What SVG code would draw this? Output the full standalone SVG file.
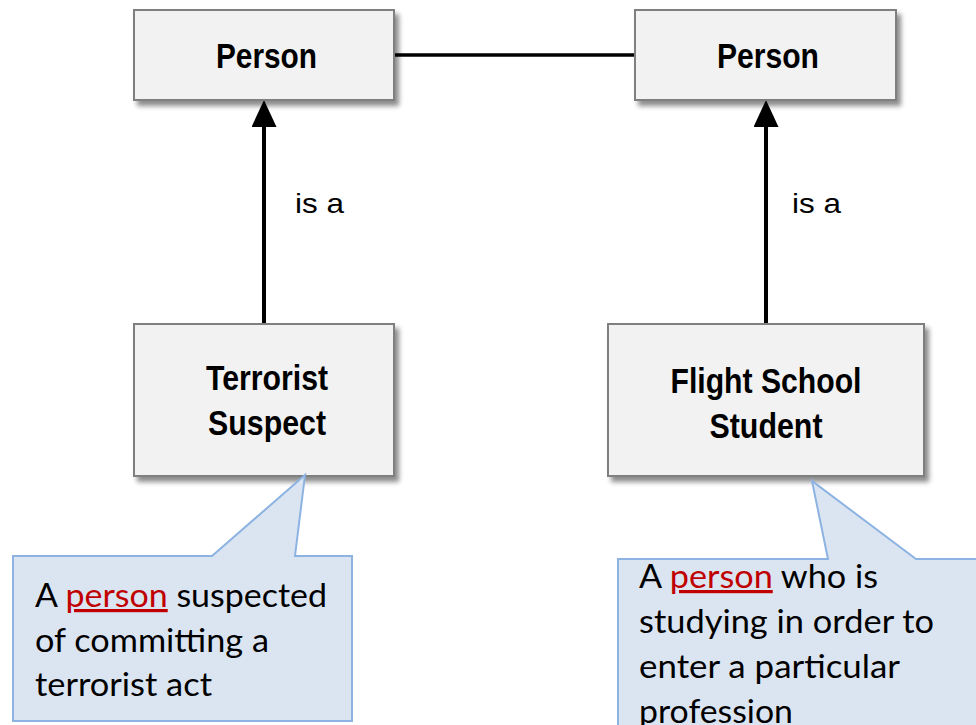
<svg xmlns="http://www.w3.org/2000/svg" width="976" height="725" viewBox="0 0 976 725">
  <style>
    .node rect { fill: #f2f2f2; stroke: #7f7f7f; stroke-width: 2; filter: url(#shadow); }
    .label { font-family: "Liberation Sans", Arial, sans-serif; font-weight: bold; font-size: 35px; fill: #000; text-anchor: middle; }
    .edge { stroke: #000; stroke-width: 4; fill: none; }
    .rel { font-family: "Liberation Sans", Arial, sans-serif; font-size: 28px; fill: #000; }
    .note path { fill: #dbe5f1; stroke: #8db3e2; stroke-width: 2; }
    .note text { font-family: Lato, "Open Sans", sans-serif; font-size: 32px; fill: #000; }
    .term { fill: #c00000; text-decoration: underline; }
  </style>
  <defs>
    <filter id="shadow" x="-10%" y="-10%" width="130%" height="140%">
      <feDropShadow dx="4" dy="5" stdDeviation="2.5" flood-color="#000" flood-opacity="0.45"/>
    </filter>
    <marker id="head" markerUnits="userSpaceOnUse" markerWidth="27" markerHeight="26" refX="17" refY="12.5" orient="auto">
      <path d="M0,0 L27,12.5 L0,25 Z" fill="#000"/>
    </marker>
  </defs>

  <!-- connectors -->
  <g id="connectors">
    <line class="edge" x1="394" y1="55" x2="635" y2="55" style="stroke-width:3.5"/>
    <path class="edge" d="M264,324 L264,110" marker-end="url(#head)"/>
    <path class="edge" d="M766,324 L766,110" marker-end="url(#head)"/>
    <text class="rel" x="295" y="213" textLength="49" lengthAdjust="spacingAndGlyphs">is a</text>
    <text class="rel" x="792" y="213" textLength="49" lengthAdjust="spacingAndGlyphs">is a</text>
  </g>

  <!-- classes -->
  <g id="person-left" class="node">
    <rect x="134" y="10" width="260" height="90"/>
    <text class="label" x="266.5" y="68" textLength="101" lengthAdjust="spacingAndGlyphs">Person</text>
  </g>
  <g id="person-right" class="node">
    <rect x="635" y="10" width="261" height="90"/>
    <text class="label" x="768" y="68" textLength="102" lengthAdjust="spacingAndGlyphs">Person</text>
  </g>
  <g id="terrorist-suspect" class="node">
    <rect x="134" y="324" width="260" height="152"/>
    <text class="label" x="267" y="390" textLength="122" lengthAdjust="spacingAndGlyphs">Terrorist</text>
    <text class="label" x="267" y="435" textLength="118" lengthAdjust="spacingAndGlyphs">Suspect</text>
  </g>
  <g id="flight-school-student" class="node">
    <rect x="608" y="324" width="316" height="152"/>
    <text class="label" x="766" y="393" textLength="191" lengthAdjust="spacingAndGlyphs">Flight School</text>
    <text class="label" x="766" y="438" textLength="113" lengthAdjust="spacingAndGlyphs">Student</text>
  </g>

  <!-- definitions -->
  <g id="note-terrorist-suspect" class="note">
    <path d="M13,556 L212,556 L305,475 L295,556 L352,556 L352,721 L13,721 Z"/>
    <text x="35" y="607" textLength="292" lengthAdjust="spacingAndGlyphs">A <tspan class="term">person</tspan> suspected</text>
    <text x="35" y="651.5" textLength="234" lengthAdjust="spacingAndGlyphs">of committing a</text>
    <text x="35" y="696" textLength="177" lengthAdjust="spacingAndGlyphs">terrorist act</text>
  </g>
  <g id="note-flight-school-student" class="note">
    <path d="M618,559 L828,559 L812,481 L916,559 L982,559 L982,732 L618,732 Z"/>
    <text x="639" y="588" textLength="239" lengthAdjust="spacingAndGlyphs">A <tspan class="term">person</tspan> who is</text>
    <text x="639" y="633" textLength="295" lengthAdjust="spacingAndGlyphs">studying in order to</text>
    <text x="639" y="678" textLength="261" lengthAdjust="spacingAndGlyphs">enter a particular</text>
    <text x="639" y="723" textLength="154" lengthAdjust="spacingAndGlyphs">profession</text>
  </g>
</svg>
